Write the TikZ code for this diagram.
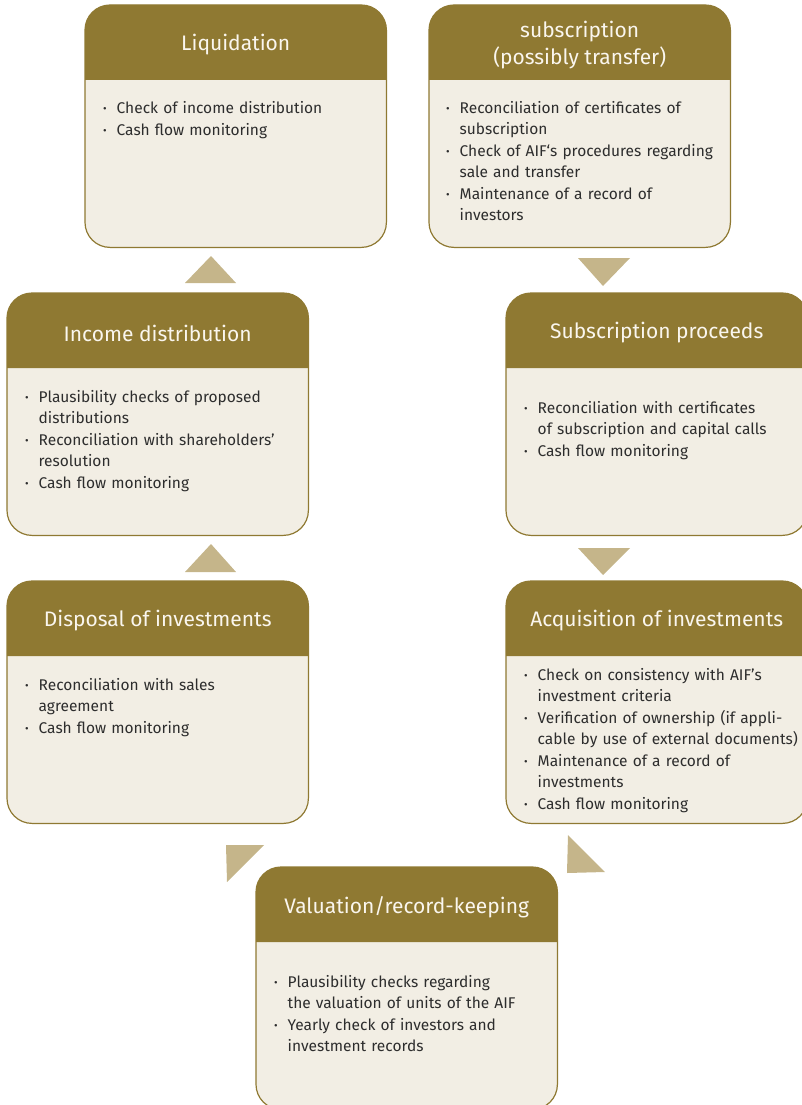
\documentclass[tikz,border=0pt]{standalone}
\usepackage{fontspec}
\setmainfont{Fira Sans}
\definecolor{headc}{RGB}{143,121,50}
\definecolor{edgec}{RGB}{143,121,50}
\definecolor{bodyc}{RGB}{242,238,228}
\definecolor{tric}{RGB}{197,181,138}
\definecolor{titlec}{RGB}{250,246,238}
\definecolor{textc}{RGB}{45,45,45}

% one bullet point with hanging indent (continuation lines via \newline)
\newcommand\bitem[1]{\par\noindent\hangindent=13.5pt\hangafter=1%
  \makebox[13.5pt][l]{\raisebox{0.5pt}{\fontsize{11}{11}\selectfont\textbullet}}\rule{0pt}{15pt}#1\par\vspace{1pt}}

% card: rounded box with a coloured header band and a title
\newcommand\mkcard[4]{%
  \node[cardbody] (#1) at (#2,#3) {};
  \fill[headc] ([yshift=-75pt]#1.north west) [rounded corners=25pt] -- (#1.north west)
     -- (#1.north east) [sharp corners] -- ([yshift=-75pt]#1.north east) -- cycle;
  \draw[cardline] (#1.south west) rectangle (#1.north east);
  \node[cardtitle] (#1-title) at ([yshift=-40pt]#1.north) {#4};
}

\tikzset{
  cardbody/.style={fill=bodyc, rounded corners=25pt, minimum width=301pt,
    minimum height=242pt, inner sep=0pt, anchor=north west},
  cardline/.style={draw=edgec, line width=1.2pt, rounded corners=25pt},
  cardtitle/.style={text=titlec, align=center, inner sep=0pt,
    font=\fontsize{21}{27}\selectfont},
  cardtext/.style={text=textc, anchor=north west, inner sep=0pt, text width=285pt,
    font=\fontsize{15.5}{21}\selectfont}
}

\begin{document}
\begin{tikzpicture}[x=1pt,y=-1pt]
\useasboundingbox (0,0) rectangle (802,1105);

\mkcard{liq}{85}{5}{Liquidation}
\mkcard{sub}{429}{5}{subscription\\(possibly transfer)}
\mkcard{inc}{7}{293}{Income distribution}
\mkcard{proc}{506}{293}{Subscription proceeds}
\mkcard{disp}{7}{581}{Disposal of investments}
\mkcard{acq}{506}{581}{Acquisition of investments}
\mkcard{val}{256}{867}{Valuation/record-keeping}

\node[cardtext] (liq-text) at (103,92) {%
  \bitem{Check of income distribution}
  \bitem{Cash flow monitoring}};
\node[cardtext] (sub-text) at (446,92) {%
  \bitem{Reconciliation of certificates of\newline subscription}
  \bitem{Check of AIF‘s procedures regarding\newline sale and transfer}
  \bitem{Maintenance of a record of\newline investors}};
\node[cardtext] (inc-text) at (25,381) {%
  \bitem{Plausibility checks of proposed\newline distributions}
  \bitem{Reconciliation with shareholders’\newline resolution}
  \bitem{Cash flow monitoring}};
\node[cardtext] (proc-text) at (524,392) {%
  \bitem{Reconciliation with certificates\newline of subscription and capital calls}
  \bitem{Cash flow monitoring}};
\node[cardtext] (disp-text) at (25,669) {%
  \bitem{Reconciliation with sales\newline agreement}
  \bitem{Cash flow monitoring}};
\node[cardtext] (acq-text) at (524,659) {%
  \bitem{Check on consistency with AIF’s\newline investment criteria}
  \bitem{Verification of ownership (if appli-\newline cable by use of external documents)}
  \bitem{Maintenance of a record of\newline investments}
  \bitem{Cash flow monitoring}};
\node[cardtext] (val-text) at (274,966) {%
  \bitem{Plausibility checks regarding\newline the valuation of units of the AIF}
  \bitem{Yearly check of investors and\newline investment records}};

% flow arrows between the cards
\fill[tric] (185,283) -- (236,283) -- (211,256) -- cycle;
\fill[tric] (578,258) -- (630,258) -- (603,286) -- cycle;
\fill[tric] (185,572) -- (236,572) -- (211,544) -- cycle;
\fill[tric] (578,548) -- (630,548) -- (603,575) -- cycle;
\fill[tric] (226,845) -- (264,845) -- (227,882) -- cycle;
\fill[tric] (568,835) -- (605,872) -- (567,873) -- cycle;
\end{tikzpicture}
\end{document}
